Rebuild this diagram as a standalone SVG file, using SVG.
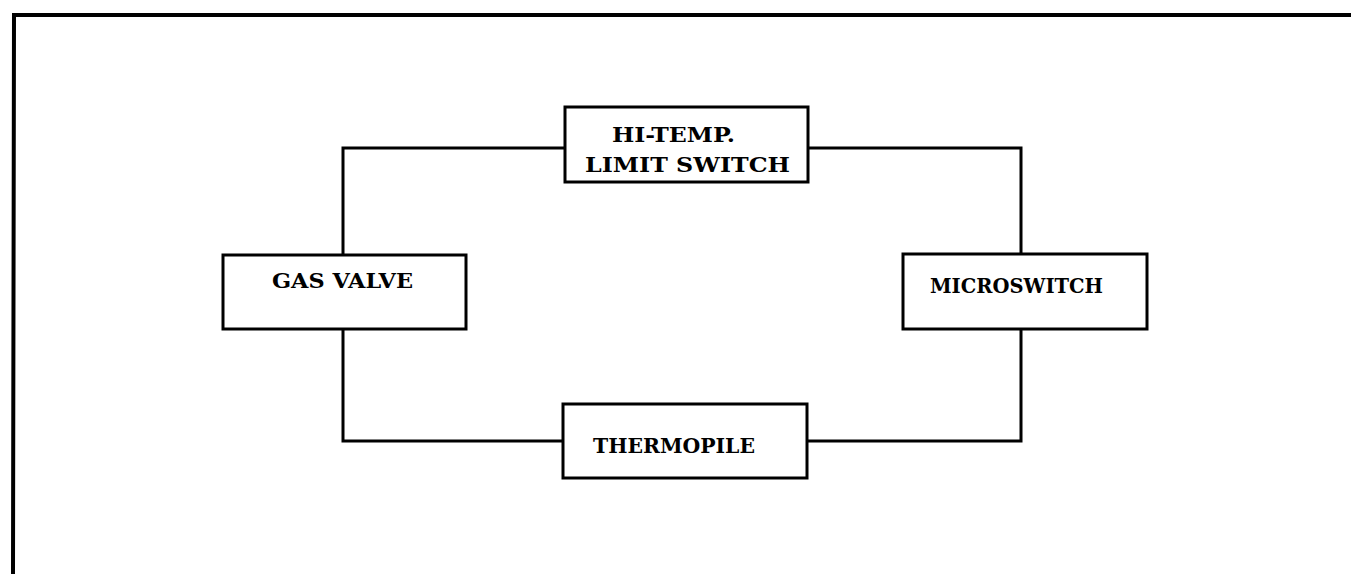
<svg xmlns="http://www.w3.org/2000/svg" width="1351" height="574" viewBox="0 0 1351 574">
<style>
.box{fill:#fff;stroke:#000;stroke-width:3}
.wire{fill:none;stroke:#000;stroke-width:3}
.lbl{font-family:"DejaVu Serif","Liberation Serif",serif;font-weight:bold;font-size:20px;fill:#000}
</style>
<rect width="1351" height="574" fill="#fff"/>
<path d="M13,574 L14,15 L1351,15" fill="none" stroke="#000" stroke-width="4"/>
<g id="connectors">
<path class="wire" d="M343,255 V148 H565"/>
<path class="wire" d="M808,148 H1021 V254"/>
<path class="wire" d="M343,329 V441 H563"/>
<path class="wire" d="M807,441 H1021 V329"/>
</g>
<g id="hitemp">
<rect class="box" x="565" y="107" width="243" height="75"/>
<text class="lbl" x="612" y="142" textLength="123" lengthAdjust="spacingAndGlyphs">HI-TEMP.</text>
<text class="lbl" x="585" y="172" textLength="205" lengthAdjust="spacingAndGlyphs">LIMIT SWITCH</text>
</g>
<g id="gasvalve">
<rect class="box" x="223" y="255" width="243" height="74"/>
<text class="lbl" x="272" y="288" textLength="141" lengthAdjust="spacingAndGlyphs">GAS VALVE</text>
</g>
<g id="microswitch">
<rect class="box" x="903" y="254" width="244" height="75"/>
<text class="lbl" x="930" y="293" textLength="173" lengthAdjust="spacingAndGlyphs">MICROSWITCH</text>
</g>
<g id="thermopile">
<rect class="box" x="563" y="404" width="244" height="74"/>
<text class="lbl" x="593" y="453" textLength="162" lengthAdjust="spacingAndGlyphs">THERMOPILE</text>
</g>
</svg>
